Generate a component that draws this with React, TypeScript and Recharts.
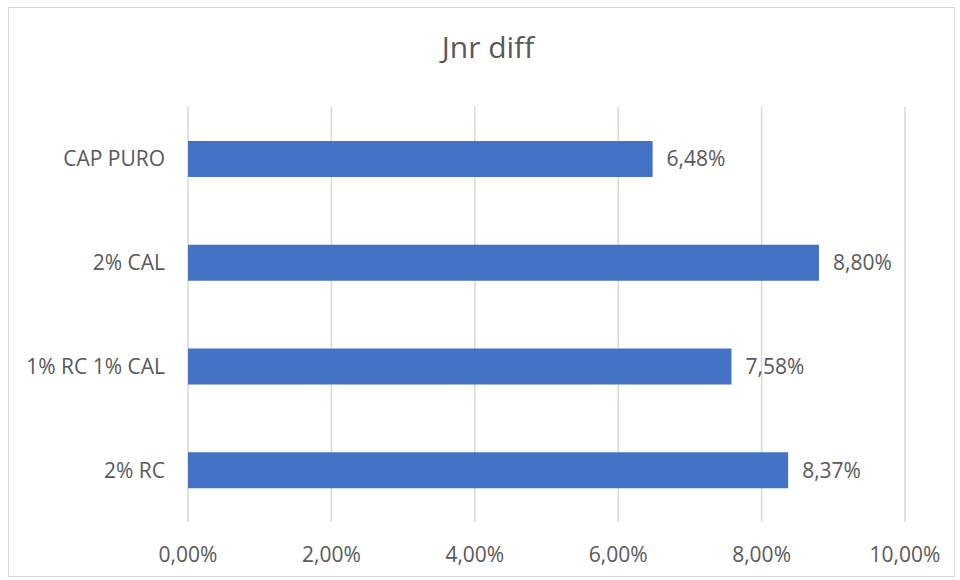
import React from 'react';
import { BarChart, Bar, XAxis, YAxis, CartesianGrid, LabelList } from 'recharts';

const categories = ['CAP PURO', '2% CAL', '1% RC 1% CAL', '2% RC'];
const values = [6.48, 8.8, 7.58, 8.37];
const xTicks = [0, 2, 4, 6, 8, 10];
const title = 'Jnr diff';

const data = categories.map((c, i) => ({ name: c, value: values[i] }));
const fmt = (v: number) => v.toFixed(2).replace('.', ',') + '%';
const FONT = '"Open Sans", sans-serif';
const GRAY = '#595959';

export default function App() {
  return (
    <div style={{ position: 'absolute', left: 0, top: 0, width: 960, height: 580, background: '#fff', fontFamily: FONT }}>
      <div style={{ position: 'absolute', left: 8, top: 7, width: 947, height: 570, border: '1px solid #d9d9d9', boxSizing: 'border-box' }} />
      <div style={{ position: 'absolute', left: 0, width: 976, top: 29, textAlign: 'center', fontSize: 30, color: GRAY, lineHeight: '36px' }}>{title}</div>
      <BarChart
        width={960}
        height={580}
        data={data}
        layout="vertical"
        margin={{ top: 107, right: 55, bottom: 28, left: 0 }}
        barSize={36}
        style={{ position: 'absolute', left: 0, top: 0 }}
      >
        <CartesianGrid horizontal={false} stroke="#d9d9d9" strokeWidth={1.5} />
        <XAxis
          type="number"
          domain={[0, 10]}
          ticks={xTicks}
          tickFormatter={fmt}
          axisLine={false}
          tickLine={false}
          height={30}
          tickMargin={19}
          tick={{ fill: GRAY, fontSize: 21, fontFamily: FONT }}
        />
        <YAxis
          type="category"
          dataKey="name"
          width={188}
          axisLine={false}
          tickLine={false}
          tickMargin={17}
          tick={{ fill: GRAY, fontSize: 21, fontFamily: FONT }}
        />
        <Bar dataKey="value" fill="#4472C4" isAnimationActive={false}>
          <LabelList dataKey="value" position="right" offset={14} formatter={(v: any) => fmt(Number(v))} fill={GRAY} fontSize={21} fontFamily={FONT} />
        </Bar>
      </BarChart>
    </div>
  );
}
